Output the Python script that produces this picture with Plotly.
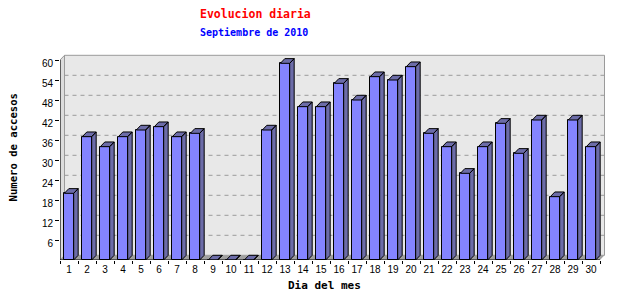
import numpy as np
import plotly.graph_objects as go

# ---- data ----
days = list(range(1, 31))
day_labels = [str(d) for d in days]
visits = [20, 37, 34, 37, 39, 40, 37, 38, 0, 0, 0, 39, 59, 46, 46,
          53, 48, 55, 54, 58, 38, 34, 26, 34, 41, 32, 42, 19, 42, 34]
y_ticks = [6, 12, 18, 24, 30, 36, 42, 48, 54, 60]
title = "Evolucion diaria"
subtitle = "Septiembre de 2010"
x_title = "Dia del mes"
y_title = "Numero de accesos"

# ---- geometry (pixels) ----
W, H = 640, 300
L, R, T, B = 60, 606, 54, 260
SLOT = 18.0
UNIT = 200.0 / 60.0
DEPTH_X_PX, DEPTH_Y_PX = 4.5, 4.7
DX = DEPTH_X_PX / SLOT
DY = DEPTH_Y_PX / UNIT
BAR_W = 0.52
xr = [0.5, 0.5 + (R - L) / SLOT]
yr = [0, (B - T) / UNIT]
n = len(days)
xmin, xmax = 0.5, n + 0.5
ymax = 60

FRONT = "#8484FF"
SIDE = "#6C6CA8"
PLANE = "#E8E8E8"
EDGE = "#9A9A9A"


def px2paper_x(p):
    return (p - L) / (R - L)


def px2paper_y(p):
    return (B - p) / (B - T)


fig = go.Figure()

# front faces
fig.add_trace(go.Bar(x=days, y=visits, width=BAR_W,
                     marker=dict(color=FRONT, line=dict(color="black", width=1)),
                     hoverinfo="skip", showlegend=False))

# top + side faces
px_, py_ = [], []
for d, v in zip(days, visits):
    xl, xrr = d - BAR_W / 2, d + BAR_W / 2
    # side
    px_ += [xrr, xrr, xrr + DX, xrr + DX, xrr, None]
    py_ += [0, v, v + DY, DY, 0, None]
    # top
    px_ += [xl, xrr, xrr + DX, xl + DX, xl, None]
    py_ += [v, v, v + DY, v + DY, v, None]
fig.add_trace(go.Scatter(x=px_, y=py_, mode="lines", fill="toself",
                         fillcolor=SIDE, line=dict(color="black", width=1),
                         hoverinfo="skip", showlegend=False))

# axis lines (front plane)
fig.add_trace(go.Scatter(x=[xmin, xmin], y=[0, ymax], mode="lines",
                         line=dict(color="black", width=1), cliponaxis=False,
                         hoverinfo="skip", showlegend=False))
fig.add_trace(go.Scatter(x=[xmin, xmax], y=[0, 0], mode="lines", xaxis="x2",
                         line=dict(color="black", width=1), cliponaxis=False,
                         hoverinfo="skip", showlegend=False))

shapes = []
# back plane
shapes.append(dict(type="rect", xref="x", yref="y", layer="below",
                   x0=xmin + DX, x1=xmax + DX, y0=DY, y1=ymax + DY,
                   fillcolor=PLANE, line=dict(color=EDGE, width=1)))
# left wall
shapes.append(dict(type="path", xref="x", yref="y", layer="below",
                   path=f"M {xmin},0 L {xmin},{ymax} L {xmin+DX},{ymax+DY} L {xmin+DX},{DY} Z",
                   fillcolor="#DCDCDC", line=dict(color=EDGE, width=1)))
# floor
shapes.append(dict(type="path", xref="x", yref="y", layer="below",
                   path=f"M {xmin},0 L {xmax},0 L {xmax+DX},{DY} L {xmin+DX},{DY} Z",
                   fillcolor="#A0A0A0", line=dict(color="#A0A0A0", width=0)))
# grid
for v in y_ticks[:-1]:
    shapes.append(dict(type="line", xref="x", yref="y", layer="below",
                       x0=xmin + DX, x1=xmax + DX, y0=v + DY, y1=v + DY,
                       line=dict(color=EDGE, width=1, dash="4px,4px")))

annotations = [
    dict(text=title, x=px2paper_x(255), y=px2paper_y(14), xref="paper", yref="paper",
         showarrow=False, xanchor="center", yanchor="middle",
         font=dict(family="DejaVu Sans Mono", size=11.5, color="#FF0000", weight="bold")),
    dict(text=subtitle, x=px2paper_x(254), y=px2paper_y(32), xref="paper", yref="paper",
         showarrow=False, xanchor="center", yanchor="middle",
         font=dict(family="DejaVu Sans Mono", size=10, color="#0000FF", weight="bold")),
    dict(text=x_title, x=px2paper_x(324), y=px2paper_y(285), xref="paper", yref="paper",
         showarrow=False, xanchor="center", yanchor="middle",
         font=dict(family="DejaVu Sans Mono", size=11, color="black", weight="bold")),
    dict(text=y_title, x=px2paper_x(12), y=px2paper_y(147.5), xref="paper", yref="paper",
         showarrow=False, xanchor="center", yanchor="middle", textangle=-90,
         font=dict(family="DejaVu Sans Mono", size=10.6, color="black", weight="bold")),
]

tickfont = dict(family="Liberation Sans", size=10, color="black")
fig.update_layout(
    width=W, height=H,
    margin=dict(l=L, r=W - R, t=T, b=H - B, pad=0),
    paper_bgcolor="white", plot_bgcolor="white",
    showlegend=False, bargap=0,
    shapes=shapes, annotations=annotations,
    xaxis=dict(range=xr, tickvals=days, ticktext=day_labels, ticks="",
               showgrid=False, zeroline=False, showline=False,
               tickfont=tickfont, ticklabelstandoff=2),
    xaxis2=dict(range=xr, overlaying="x", anchor="y", side="bottom",
                tickvals=list(np.arange(xmin, xmax + 0.01, 1.0)), ticks="outside",
                ticklen=3, tickcolor="black", showticklabels=False,
                showgrid=False, zeroline=False, showline=False),
    yaxis=dict(range=yr, tickvals=y_ticks, ticktext=[str(v) for v in y_ticks],
               ticks="outside", ticklen=4, tickcolor="black",
               showgrid=False, zeroline=False, showline=False,
               tickfont=tickfont, ticklabelshift=3),
)

fig.write_html("out.html")
